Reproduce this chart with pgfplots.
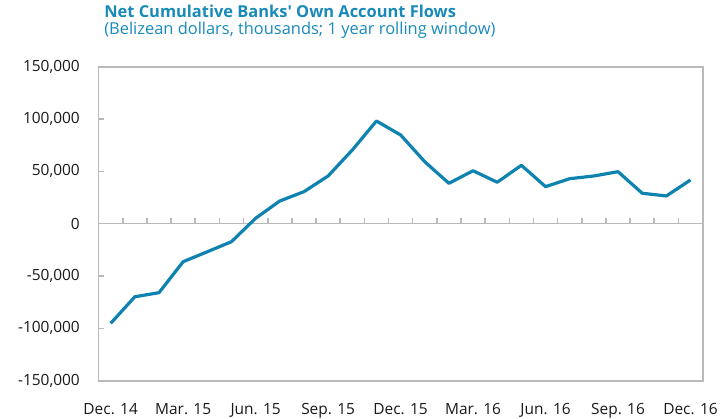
\documentclass[border=0pt]{standalone}
\usepackage{fontspec}
\setmainfont{Open Sans}
\newfontfamily\ttlfont{Open Sans}[Ligatures=TeXOff]
\usepackage{pgfplots}
\pgfplotsset{compat=1.18}
\definecolor{lineblue}{RGB}{14,131,176}
\definecolor{ttl}{RGB}{24,138,186}
\definecolor{framegray}{RGB}{185,185,185}
\begin{document}
\begin{tikzpicture}
\begin{axis}[name=ax, scale only axis, width=604bp, height=314bp,
  xmin=-0.5, xmax=24.5, ymin=-150000, ymax=150000,
  axis line style={draw=none},
  xtick={0,3,...,24},
  xticklabels={Dec. 14, Mar. 15, Jun. 15, Sep. 15, Dec. 15, Mar. 16, Jun. 16, Sep. 16, Dec. 16},
  x tick style={draw=none},
  ytick={-150000,-100000,...,150000},
  scaled y ticks=false,
  ytick pos=left, tick align=inside, major tick length=5bp,
  y tick style={framegray, line width=1.6bp},
  tick label style={font=\fontsize{15.5}{18}\selectfont, text=black!90, inner sep=0pt},
  yticklabel style={anchor=east, xshift=-18.6bp, /pgf/number format/.cd, fixed, 1000 sep={,}, assume math mode=true},
  xticklabel style={anchor=base, yshift=-33.3bp},
  clip=false,
]
\draw[framegray, line width=1.8bp, line cap=rect] (axis cs:-0.5,-150000) -- (axis cs:24.5,-150000) -- (axis cs:24.5,150000) -- (axis cs:-0.5,150000) -- cycle;
\draw[framegray, line width=1.6bp] (axis cs:-0.5,0) -- (axis cs:24.5,0);
\pgfplotsinvokeforeach{0,...,23}{\draw[framegray, line width=1.6bp] (axis cs:#1.5,0) -- (axis cs:#1.5,5700);}
\addplot[lineblue, line width=3.2bp, line join=round, mark=none] coordinates {
(0,-95200) (1,-69800) (2,-65900) (3,-36300) (4,-26800) (5,-17200)
(6,5200) (7,21700) (8,30600) (9,45600) (10,70400) (11,98100)
(12,84800) (13,59200) (14,38600) (15,50600) (16,39600) (17,55800)
(18,35400) (19,43000) (20,45600) (21,49700) (22,29100) (23,26500) (24,41800)
};
\end{axis}
\node[anchor=base west, text=ttl, inner sep=0pt, font=\fontsize{16.5}{19}\ttlfont\bfseries] at ([xshift=5.5bp, yshift=363.4bp]ax.south west) {Net Cumulative Banks' Own Account Flows};
\node[anchor=base west, text=ttl, inner sep=0pt, font=\fontsize{16.5}{19}\selectfont] at ([xshift=5.5bp, yshift=345.7bp]ax.south west) {(Belizean dollars, thousands; 1 year rolling window)};
\pgfresetboundingbox
\path ([xshift=-98.6bp,yshift=-38.3bp]ax.south west) rectangle ([xshift=624.4bp,yshift=380.7bp]ax.south west);
\end{tikzpicture}
\end{document}
